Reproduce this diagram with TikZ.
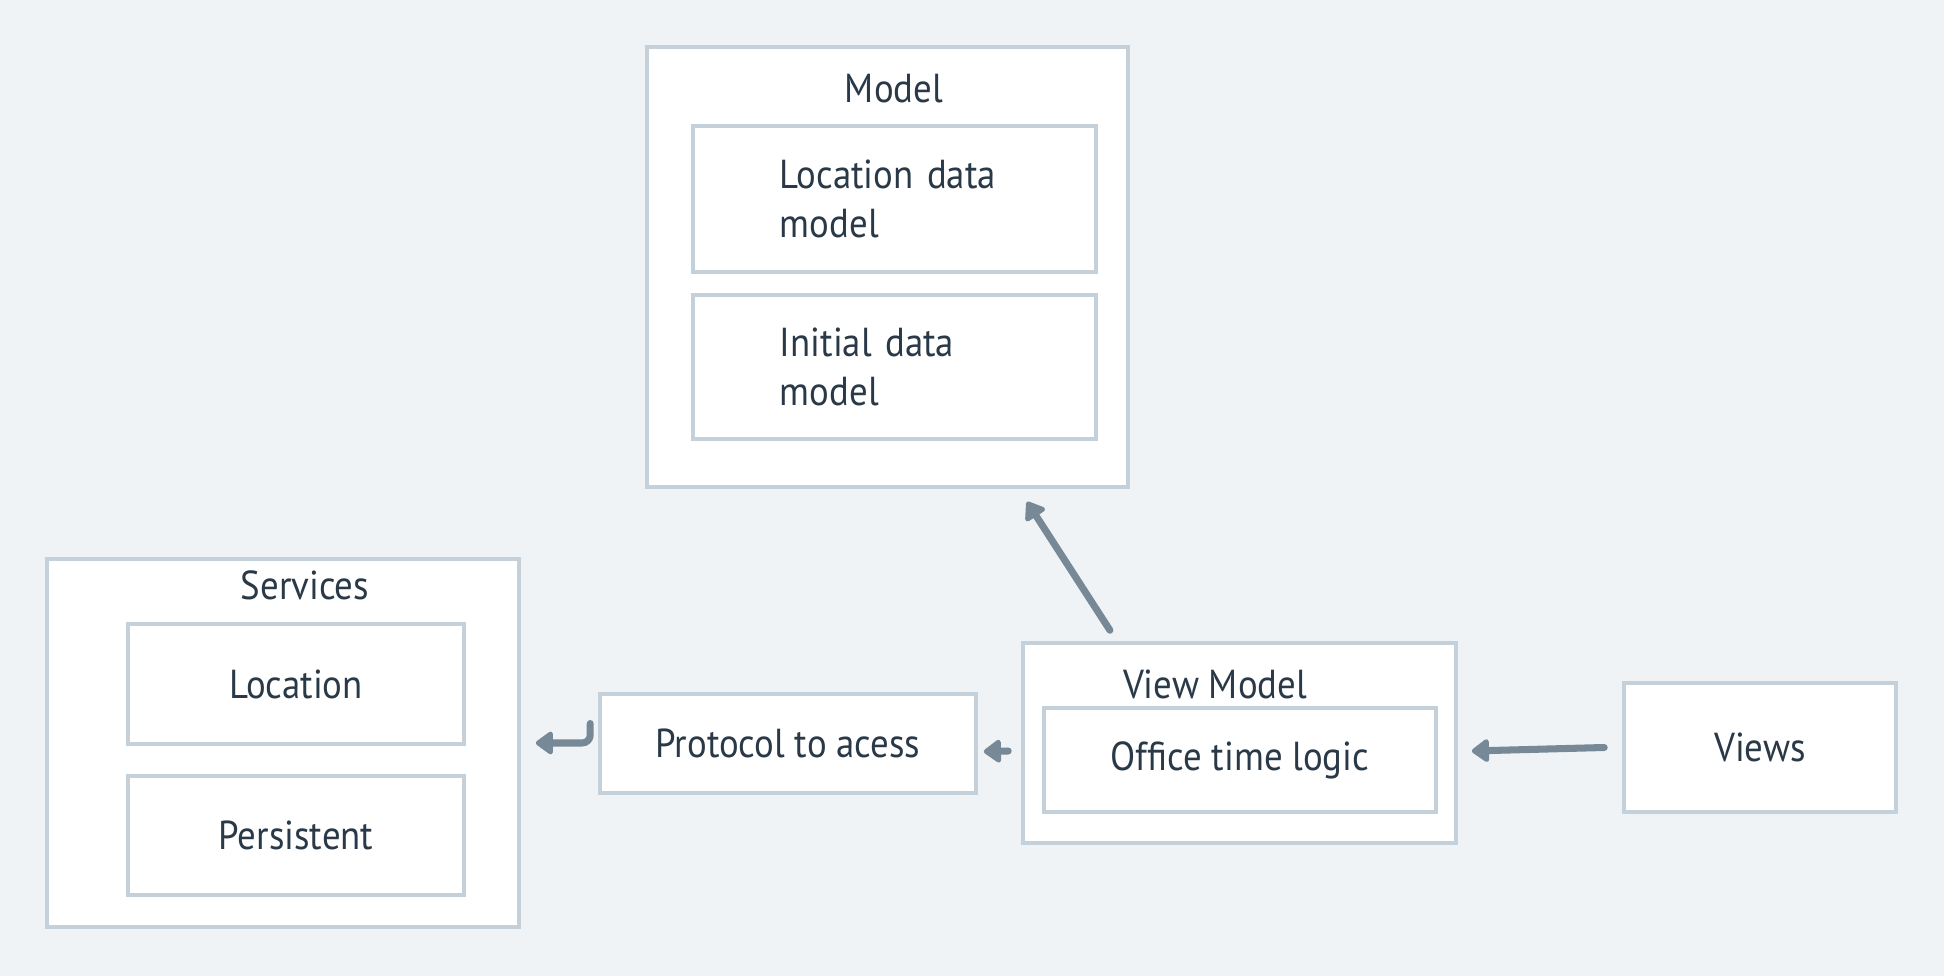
\documentclass[tikz,border=0pt]{standalone}
\usepackage{fontspec}
\setmainfont{PT Sans}[FakeStretch=0.91]
\usetikzlibrary{positioning}
\usetikzlibrary{arrows.meta}
\definecolor{bgcol}{HTML}{EFF3F6}
\definecolor{edgecol}{HTML}{C4D1DB}
\definecolor{arrowcol}{HTML}{778896}
\definecolor{textcol}{HTML}{2A3947}
\begin{document}
\begin{tikzpicture}[x=0.01cm,y=-0.01cm,
  font=\fontsize{11.5}{14}\selectfont,
  box/.style={draw=edgecol,line width=0.95pt,fill=white,inner sep=0pt,text=textcol},
  title/.style={text=textcol,inner sep=1pt},
  twoline/.style={box,align=left,inner xsep=0.87cm,text width=2.29cm},
  link/.style={draw=arrowcol,line width=2pt,line cap=round,line join=round,
    -{Triangle[length=0.19cm,width=0.26cm,round]}}]
\fill[bgcol] (0,0) rectangle (1944,976);
\useasboundingbox (0,0) rectangle (1944,976);

% Model
\node[box,minimum width=4.81cm,minimum height=4.40cm] (model) at (887.5,267) {};
\node[title] (modeltitle) at (894,89) {Model};
\node[twoline,minimum height=1.46cm] (locmodel) at (894.5,199) {Location data\\model};
\node[twoline,minimum height=1.44cm] (initmodel) at (894.5,367) {Initial data\\model};

% Services
\node[box,minimum width=4.72cm,minimum height=3.68cm] (services) at (283,743) {};
\node[title] (servicestitle) at (305,585) {Services};
\node[box,minimum width=3.36cm,minimum height=1.20cm] (location) at (296,684) {Location};
\node[box,minimum width=3.36cm,minimum height=1.19cm] (persistent) at (296,835.5) {Persistent};

\node[box,minimum width=3.76cm,minimum height=0.99cm] (protocol) at (788,743.5) {Protocol to acess};

% View Model
\node[box,minimum width=4.33cm,minimum height=2.00cm] (vm) at (1239.5,743) {};
\node[title] (vmtitle) at (1215,684) {View Model};
\node[box,minimum width=3.92cm,minimum height=1.04cm] (office) at (1240,760) {Office time logic};

\node[box,minimum width=2.72cm,minimum height=1.29cm] (views) at (1760,747.5) {Views};

\draw[link] ([xshift=-0.18cm]views.west) -- ([xshift=0.14cm,yshift=-0.08cm]vm.east);
\draw[link] ([xshift=-0.13cm,yshift=-0.08cm]vm.west) -- ([xshift=0.06cm,yshift=-0.08cm]protocol.east);
\draw[link,rounded corners=0.08cm] ([xshift=-0.08cm,yshift=0.2cm]protocol.west) |- ([xshift=0.15cm]services.east);
\draw[link] ([xshift=-1.295cm,yshift=0.11cm]vm.north) -- ([xshift=1.395cm,yshift=-0.13cm]model.south);
\end{tikzpicture}
\end{document}
